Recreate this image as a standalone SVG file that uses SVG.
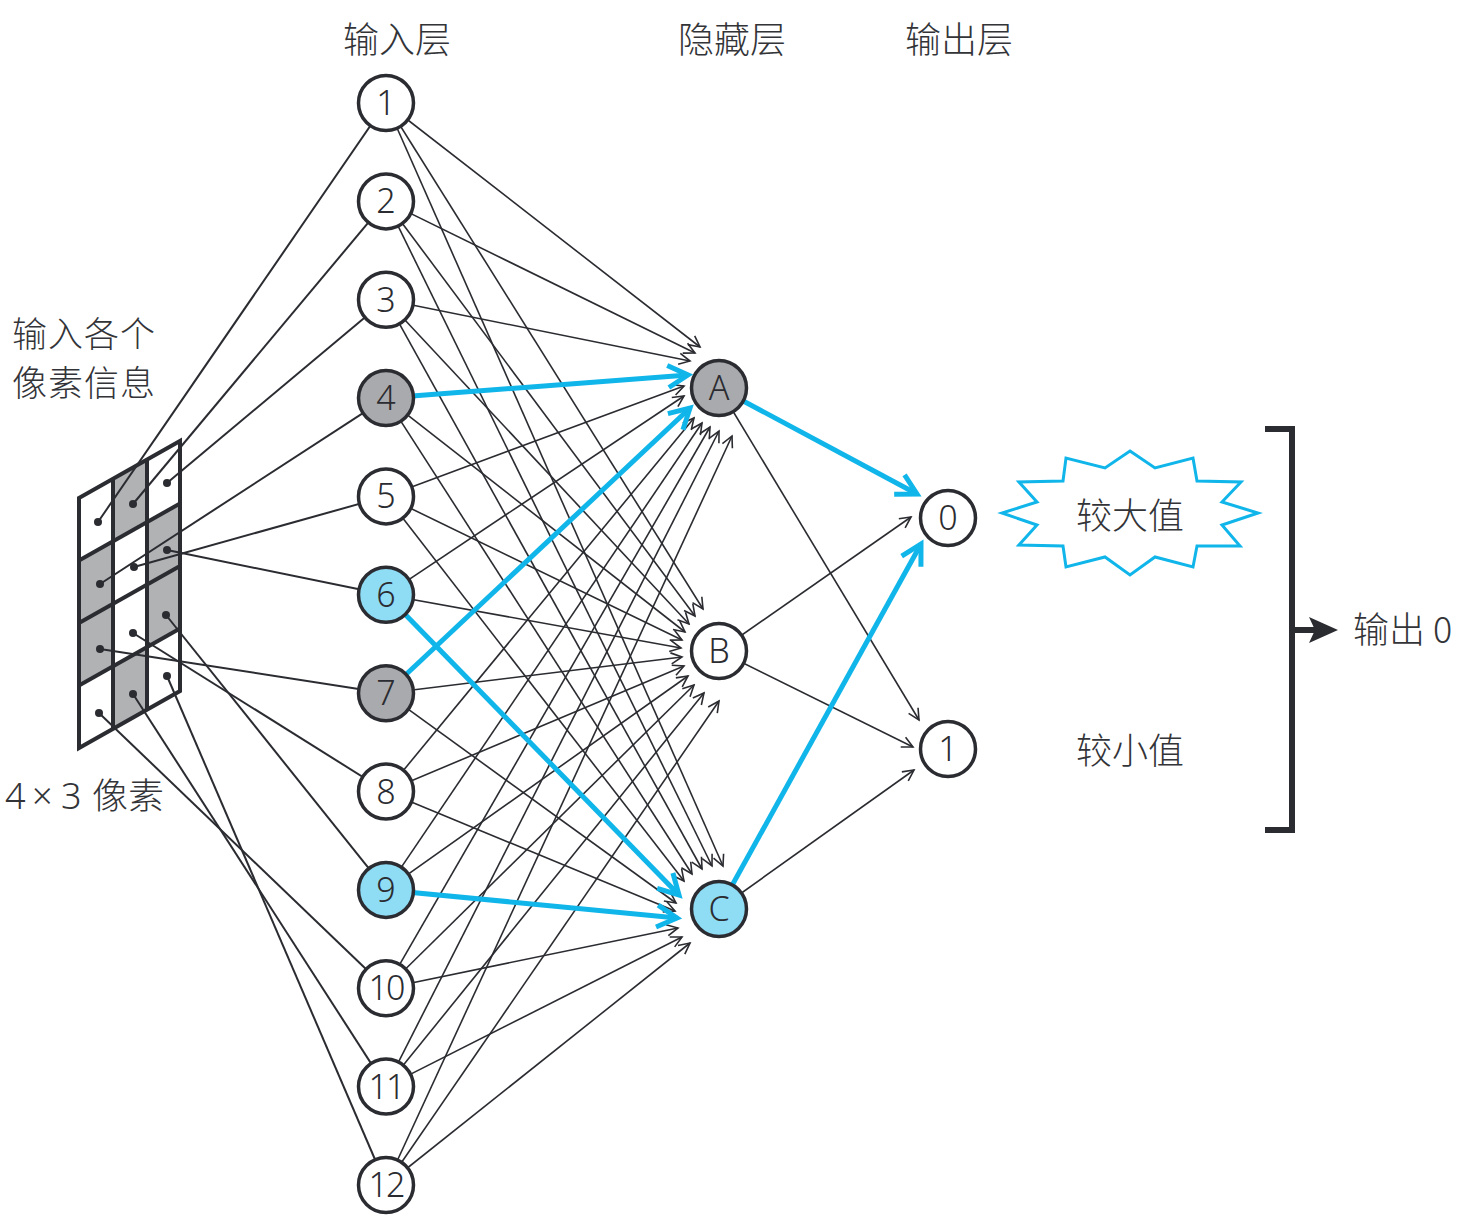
<svg xmlns="http://www.w3.org/2000/svg" width="1468" height="1220" viewBox="0 0 1468 1220">
<style>
.t{font-family:"Noto Sans CJK SC","Noto Sans",sans-serif;font-size:36px;fill:#333438;font-weight:300}
.nt{font-family:"Noto Sans","Noto Sans CJK SC",sans-serif;font-size:34px;fill:#2b2c31;text-anchor:middle;font-weight:300}
.lat{font-family:"Noto Sans","Noto Sans CJK SC",sans-serif}
.n{fill:#fff;stroke:#2b2c31;stroke-width:3.5}
.g{fill:#a9aaad}
.b{fill:#8fdcf5}
.c{stroke:#2b2c31;stroke-width:1.6;fill:none;marker-end:url(#ah)}
.cb{stroke:#10b5ea;stroke-width:5;fill:none;marker-end:url(#ahb)}
.d{stroke:#2b2c31;stroke-width:2;fill:none}
.grid{stroke:#2b2c31;stroke-width:4;fill:none;stroke-linejoin:miter}
.cell{fill:#b1b2b4}
.dot{fill:#2b2c31}
</style>
<defs>
<marker id="ah" viewBox="-13 -7 15 14" refX="0" refY="0" markerWidth="15" markerHeight="14" markerUnits="userSpaceOnUse" orient="auto">
<path d="M-11,-5.5 L0,0 L-11,5.5" fill="none" stroke="#2b2c31" stroke-width="1.6"/>
</marker>
<marker id="ahb" viewBox="-26 -15 32 30" refX="0" refY="0" markerWidth="32" markerHeight="30" markerUnits="userSpaceOnUse" orient="auto">
<path d="M-20,-11 L0,0 L-20,11" fill="none" stroke="#10b5ea" stroke-width="5"/>
</marker>
</defs>

<rect width="1468" height="1220" fill="#fff"/>

<!-- titles -->
<text class="t" x="397" y="53" text-anchor="middle">输入层</text>
<text class="t" x="732" y="53" text-anchor="middle">隐藏层</text>
<text class="t" x="959" y="53" text-anchor="middle">输出层</text>
<text class="t" x="12" y="347" style="font-size:35px" letter-spacing="1">输入各个</text>
<text class="t" x="12" y="396" style="font-size:35px" letter-spacing="1">像素信息</text>
<text class="t" y="809"><tspan class="lat" x="5">4</tspan><tspan class="lat" x="32">×</tspan><tspan class="lat" x="61">3</tspan><tspan x="92">像素</tspan></text>

<!-- pixel grid -->
<g id="pixels">
<polygon class="cell" points="113,478.8 147,459.6 147,522.1 113,541.3"/>
<polygon class="cell" points="79,560.5 113,541.3 113,603.8 79,623"/>
<polygon class="cell" points="147,522.1 180,503.5 180,566 147,584.6"/>
<polygon class="cell" points="79,623 113,603.8 113,666.3 79,685.5"/>
<polygon class="cell" points="147,584.6 180,566 180,628.5 147,647.1"/>
<polygon class="cell" points="113,666.3 147,647.1 147,709.6 113,728.8"/>
<polygon class="grid" points="79,498 180,441 180,691 79,748"/>
<line class="grid" x1="113" y1="478.8" x2="113" y2="728.8"/>
<line class="grid" x1="147" y1="459.6" x2="147" y2="709.6"/>
<line class="grid" x1="79" y1="560.5" x2="180" y2="503.5"/>
<line class="grid" x1="79" y1="623" x2="180" y2="566"/>
<line class="grid" x1="79" y1="685.5" x2="180" y2="628.5"/>
</g>

<g id="connectors">
<!-- pixel to input -->
<line class="d" x1="98" y1="522" x2="386" y2="103"/>
<line class="d" x1="133" y1="504" x2="386" y2="201.4"/>
<line class="d" x1="167" y1="483" x2="386" y2="299.7"/>
<line class="d" x1="100" y1="584" x2="386" y2="398.1"/>
<line class="d" x1="134" y1="567" x2="386" y2="496.4"/>
<line class="d" x1="167" y1="550" x2="386" y2="594.8"/>
<line class="d" x1="100" y1="649" x2="386" y2="693.2"/>
<line class="d" x1="133" y1="633" x2="386" y2="791.5"/>
<line class="d" x1="166" y1="615" x2="386" y2="889.9"/>
<line class="d" x1="99" y1="713" x2="386" y2="988.2"/>
<line class="d" x1="133" y1="694" x2="386" y2="1086.6"/>
<line class="d" x1="167" y1="676" x2="386" y2="1185"/>

<!-- input to A -->
<line class="c" x1="386" y1="103" x2="700" y2="347"/>
<line class="c" x1="386" y1="201.4" x2="695" y2="353"/>
<line class="c" x1="386" y1="299.7" x2="690" y2="361"/>
<line class="c" x1="386" y1="496.4" x2="684" y2="386"/>
<line class="c" x1="386" y1="594.8" x2="684" y2="396"/>
<line class="c" x1="386" y1="791.5" x2="694" y2="418"/>
<line class="c" x1="386" y1="889.9" x2="702" y2="423"/>
<line class="c" x1="386" y1="988.2" x2="710" y2="427"/>
<line class="c" x1="386" y1="1086.6" x2="719" y2="431"/>
<line class="c" x1="386" y1="1185" x2="732" y2="436"/>
<!-- input to B -->
<line class="c" x1="386" y1="103" x2="703" y2="609"/>
<line class="c" x1="386" y1="201.4" x2="695" y2="616"/>
<line class="c" x1="386" y1="299.7" x2="689" y2="624"/>
<line class="c" x1="386" y1="398.1" x2="685" y2="632"/>
<line class="c" x1="386" y1="496.4" x2="682" y2="640"/>
<line class="c" x1="386" y1="594.8" x2="681" y2="648"/>
<line class="c" x1="386" y1="693.2" x2="682" y2="657"/>
<line class="c" x1="386" y1="791.5" x2="684" y2="666"/>
<line class="c" x1="386" y1="889.9" x2="688" y2="676"/>
<line class="c" x1="386" y1="988.2" x2="694" y2="685"/>
<line class="c" x1="386" y1="1086.6" x2="704" y2="693"/>
<line class="c" x1="386" y1="1185" x2="719" y2="701"/>
<!-- input to C -->
<line class="c" x1="386" y1="103" x2="723" y2="866"/>
<line class="c" x1="386" y1="201.4" x2="712" y2="866"/>
<line class="c" x1="386" y1="299.7" x2="702" y2="869"/>
<line class="c" x1="386" y1="398.1" x2="692" y2="874"/>
<line class="c" x1="386" y1="496.4" x2="684" y2="881"/>
<line class="c" x1="386" y1="693.2" x2="676" y2="903"/>
<line class="c" x1="386" y1="791.5" x2="675" y2="911"/>
<line class="c" x1="386" y1="988.2" x2="678" y2="928"/>
<line class="c" x1="386" y1="1086.6" x2="682" y2="937"/>
<line class="c" x1="386" y1="1185" x2="690" y2="943"/>
<!-- hidden to output -->
<line class="c" x1="719" y1="388" x2="919" y2="720"/>
<line class="c" x1="719" y1="651" x2="911" y2="517"/>
<line class="c" x1="719" y1="651" x2="913" y2="747"/>
<line class="c" x1="719" y1="909" x2="914" y2="770"/>
<!-- highlighted -->
<line class="cb" x1="386" y1="398.1" x2="688" y2="375"/>
<line class="cb" x1="386" y1="693.2" x2="690" y2="408"/>
<line class="cb" x1="386" y1="594.8" x2="679" y2="895"/>
<line class="cb" x1="386" y1="889.9" x2="677" y2="918"/>
<line class="cb" x1="719" y1="388" x2="917" y2="494"/>
<line class="cb" x1="719" y1="909" x2="921" y2="544"/>
<!-- bracket arrow -->
<path d="M1292,630 L1316,630" stroke="#2b2c31" stroke-width="6" fill="none"/>
<path d="M1338,630 L1309,617 L1315,630 L1309,643 Z" fill="#2b2c31"/>
</g>

<!-- pixel dots -->
<g id="dots">
<circle class="dot" cx="98" cy="522" r="4"/>
<circle class="dot" cx="133" cy="504" r="4"/>
<circle class="dot" cx="167" cy="483" r="4"/>
<circle class="dot" cx="100" cy="584" r="4"/>
<circle class="dot" cx="134" cy="567" r="4"/>
<circle class="dot" cx="167" cy="550" r="4"/>
<circle class="dot" cx="100" cy="649" r="4"/>
<circle class="dot" cx="133" cy="633" r="4"/>
<circle class="dot" cx="166" cy="615" r="4"/>
<circle class="dot" cx="99" cy="713" r="4"/>
<circle class="dot" cx="133" cy="694" r="4"/>
<circle class="dot" cx="167" cy="676" r="4"/>
</g>

<g id="in1"><circle class="n" cx="386" cy="103" r="27.5"/><text class="nt" x="386" y="115">1</text></g>
<g id="in2"><circle class="n" cx="386" cy="201.4" r="27.5"/><text class="nt" x="386" y="213.4">2</text></g>
<g id="in3"><circle class="n" cx="386" cy="299.7" r="27.5"/><text class="nt" x="386" y="311.7">3</text></g>
<g id="in4"><circle class="n g" cx="386" cy="398.1" r="27.5"/><text class="nt" x="386" y="410.1">4</text></g>
<g id="in5"><circle class="n" cx="386" cy="496.4" r="27.5"/><text class="nt" x="386" y="508.4">5</text></g>
<g id="in6"><circle class="n b" cx="386" cy="594.8" r="27.5"/><text class="nt" x="386" y="606.8">6</text></g>
<g id="in7"><circle class="n g" cx="386" cy="693.2" r="27.5"/><text class="nt" x="386" y="705.2">7</text></g>
<g id="in8"><circle class="n" cx="386" cy="791.5" r="27.5"/><text class="nt" x="386" y="803.5">8</text></g>
<g id="in9"><circle class="n b" cx="386" cy="889.9" r="27.5"/><text class="nt" x="386" y="901.9">9</text></g>
<g id="in10"><circle class="n" cx="386" cy="988.2" r="27.5"/><text class="nt" x="386" y="1000.2" letter-spacing="-2">10</text></g>
<g id="in11"><circle class="n" cx="386" cy="1086.6" r="27.5"/><text class="nt" x="386" y="1098.6" letter-spacing="-2">11</text></g>
<g id="in12"><circle class="n" cx="386" cy="1185" r="27.5"/><text class="nt" x="386" y="1197" letter-spacing="-2">12</text></g>

<g id="hA"><circle class="n g" cx="719" cy="388" r="27.5"/><text class="nt" x="719" y="400">A</text></g>
<g id="hB"><circle class="n" cx="719" cy="651" r="27.5"/><text class="nt" x="719" y="663">B</text></g>
<g id="hC"><circle class="n b" cx="719" cy="909" r="27.5"/><text class="nt" x="719" y="921">C</text></g>

<g id="out0"><circle class="n" cx="948" cy="518" r="27.5"/><text class="nt" x="948" y="530">0</text></g>
<g id="out1"><circle class="n" cx="948" cy="749" r="27.5"/><text class="nt" x="948" y="761">1</text></g>

<g id="burst">
<polygon points="1130,451 1155,468 1193,458 1197,481 1241,482 1222,502 1258,513 1222,525 1240,546 1197,546 1193,567 1155,557 1130,575 1105,557 1066,567 1063,546 1019,545 1037,525 1002,513 1037,502 1019,482 1063,481 1066,458 1105,468" fill="#fff" stroke="#10b5ea" stroke-width="3"/>
<text class="t" x="1130" y="529" text-anchor="middle">较大值</text>
</g>
<g id="small"><text class="t" x="1130" y="764" text-anchor="middle">较小值</text></g>

<g id="bracket">
<path d="M1265,429 L1292,429 L1292,830 L1265,830" stroke="#2b2c31" stroke-width="6" fill="none"/>
</g>
<g id="result"><text class="t" x="1353" y="643">输出 0</text></g>
</svg>
